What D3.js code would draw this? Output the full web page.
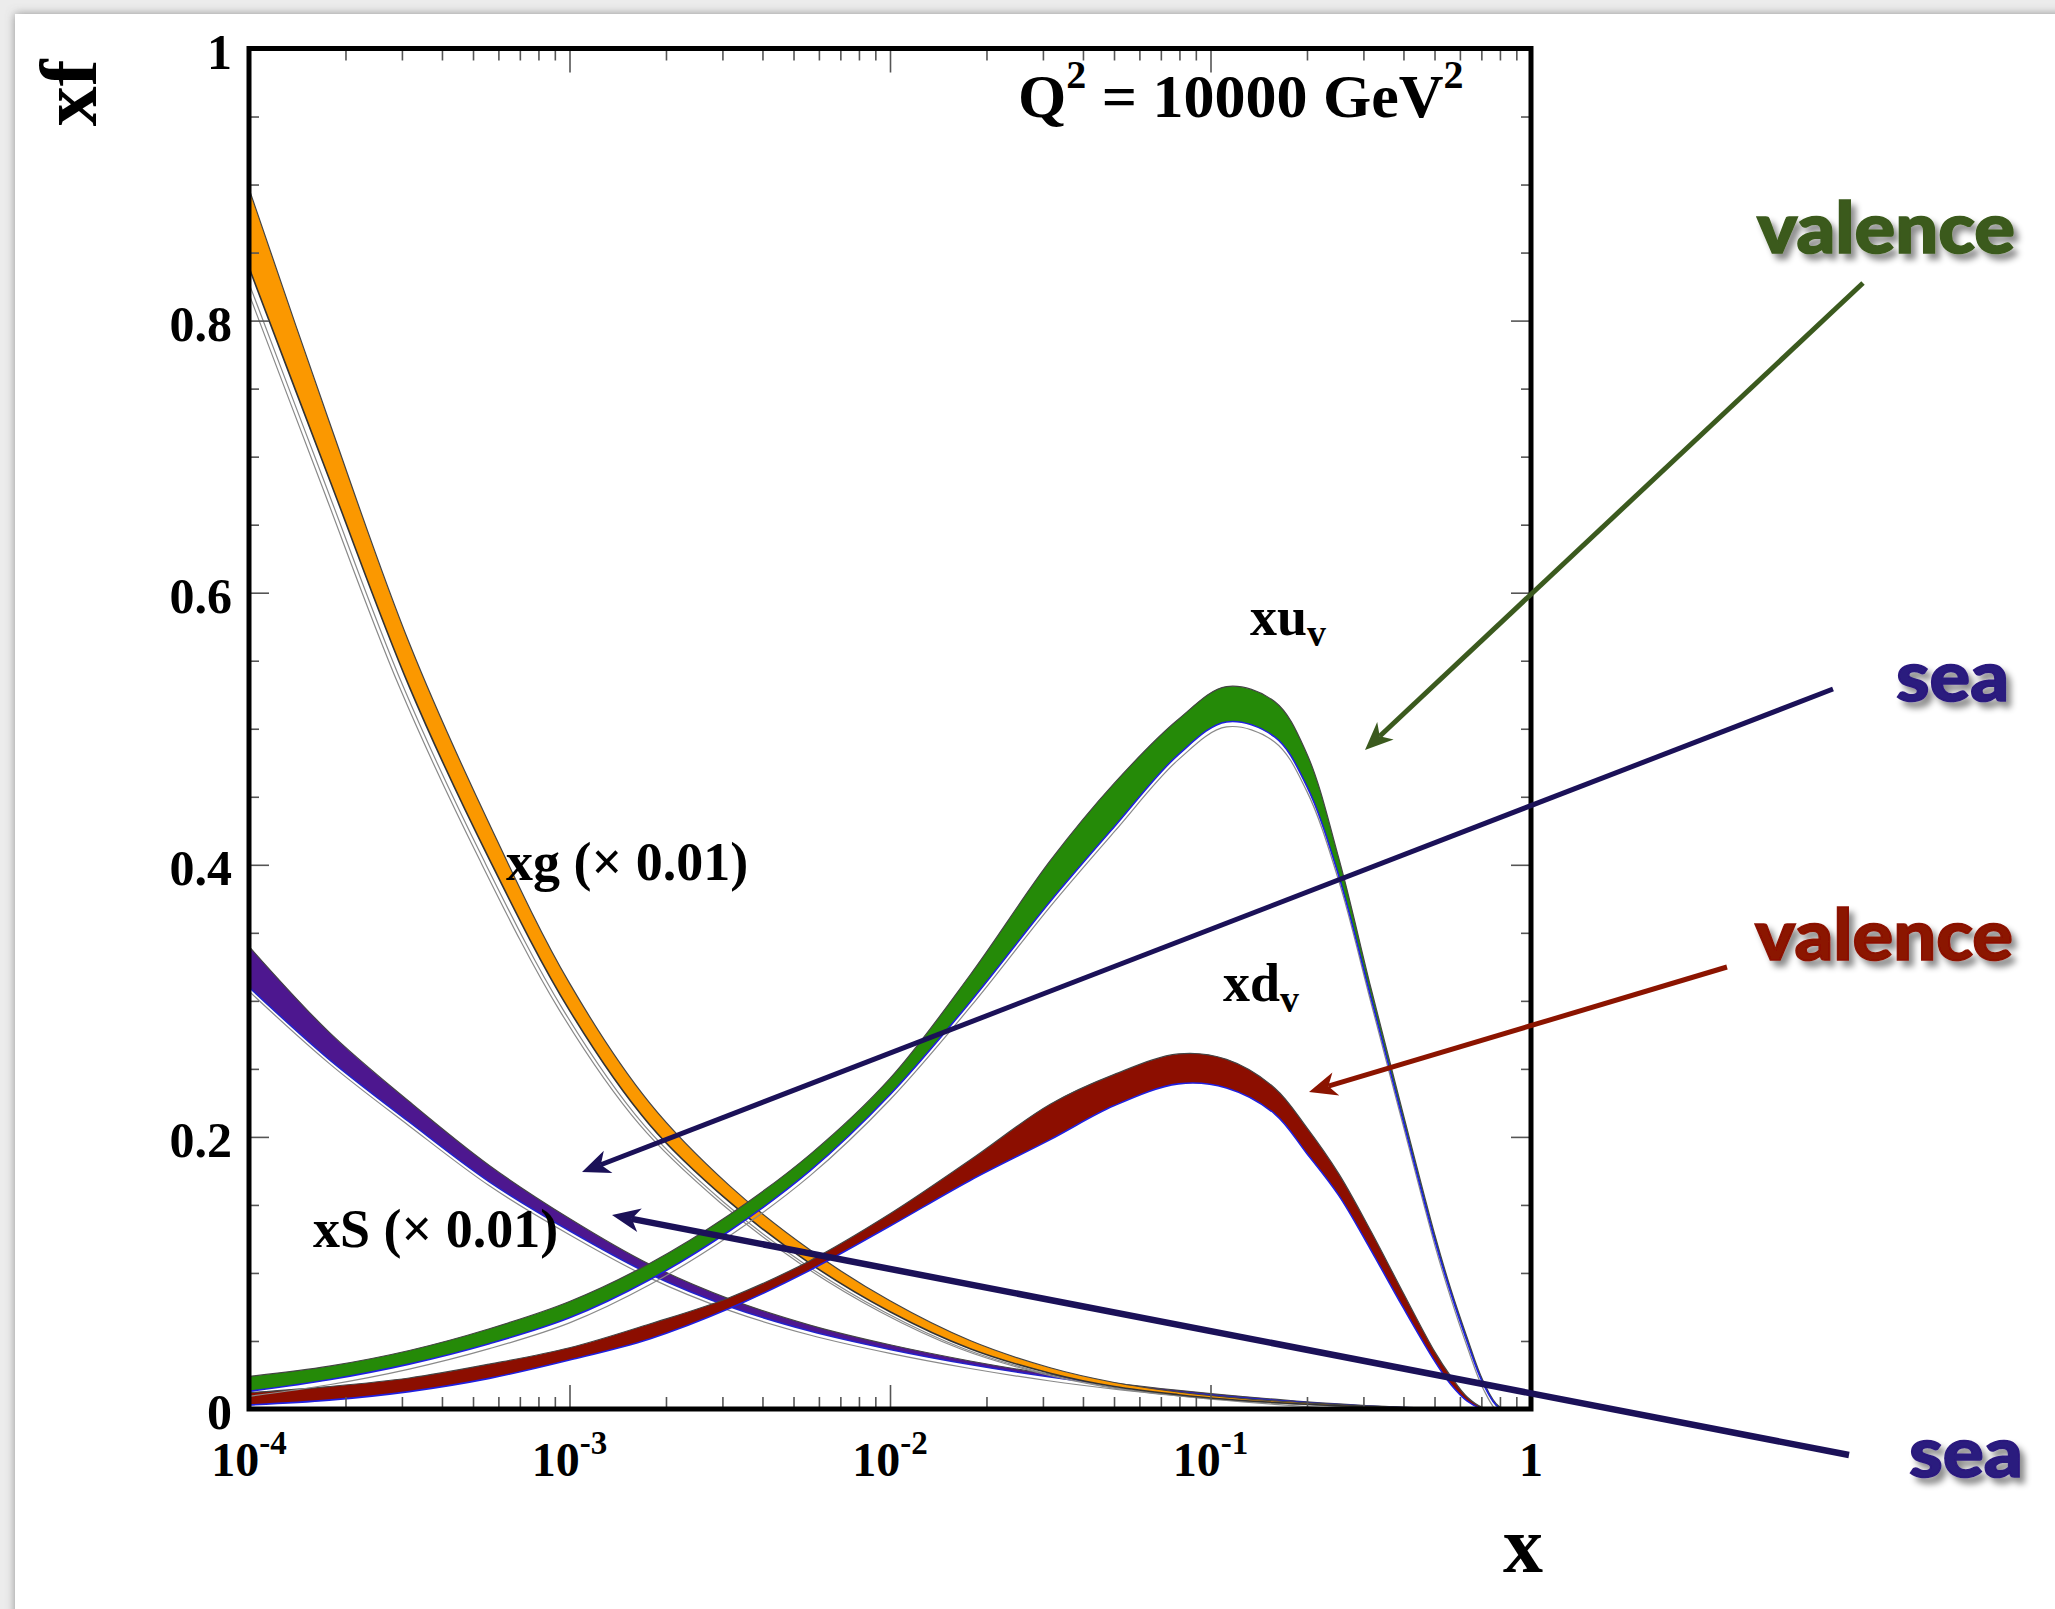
<!DOCTYPE html>
<html><head><meta charset="utf-8">
<script src="https://cdn.jsdelivr.net/npm/d3@7"></script>
<style>
html,body{margin:0;padding:0;background:#eaeaea;}
svg{display:block;}
</style></head><body>
<svg id="chart" width="2055" height="1609"></svg>
<script>
// ---------------- data ----------------
const xValues = [0.0001, 0.0001778, 0.0003162, 0.0005623, 0.001, 0.001778, 0.003162, 0.005623,
  0.01, 0.01778, 0.03162, 0.05012, 0.07943, 0.1122, 0.1585, 0.1995, 0.2512, 0.3162, 0.3981,
  0.5012, 0.5623, 0.6310, 0.7079, 0.7943, 0.8913];

// xg (x 0.01) band
const xgUpper = [0.897, 0.726, 0.563, 0.430, 0.313, 0.225, 0.164, 0.117, 0.0795, 0.0503, 0.0303, 0.0195,
  0.0125, 0.0088, 0.0060, 0.0045, 0.0032, 0.0021, 0.0012, 0.0005, 0.0003, 0.0001, 0, 0, 0];
const xgLower = [0.839, 0.684, 0.531, 0.404, 0.293, 0.209, 0.152, 0.107, 0.0715, 0.0443, 0.0263, 0.0165,
  0.0105, 0.0072, 0.0048, 0.0035, 0.0024, 0.0015, 0.0008, 0.0003, 0.0001, 0, 0, 0, 0];

// xS (x 0.01) band
const xsUpper = [0.340, 0.277, 0.226, 0.179, 0.140, 0.1063, 0.0808, 0.0617, 0.0472, 0.0353, 0.0255, 0.0191,
  0.0137, 0.0102, 0.0072, 0.0053, 0.0037, 0.0024, 0.0013, 0.0006, 0.0003, 0.0001, 0, 0, 0];
const xsLower = [0.310, 0.257, 0.211, 0.167, 0.131, 0.0993, 0.0752, 0.0573, 0.0438, 0.0327, 0.0235, 0.0175,
  0.0125, 0.0092, 0.0064, 0.0047, 0.0033, 0.0020, 0.0011, 0.0004, 0.0003, 0.0001, 0, 0, 0];

// xu_v band
const xuvUpper = [0.024, 0.0315, 0.043, 0.059, 0.079, 0.107, 0.143, 0.187, 0.243, 0.319, 0.403, 0.460,
  0.507, 0.531, 0.520, 0.482, 0.405, 0.310, 0.218, 0.128, 0.088, 0.053, 0.021, 0.002, 0];
const xuvLower = [0.013, 0.0215, 0.033, 0.048, 0.067, 0.095, 0.131, 0.175, 0.231, 0.299, 0.373, 0.428,
  0.481, 0.505, 0.494, 0.458, 0.392, 0.303, 0.213, 0.124, 0.085, 0.050, 0.019, 0.001, 0];

// xd_v band
const xdvUpper = [0.012, 0.0165, 0.0228, 0.033, 0.045, 0.0625, 0.082, 0.109, 0.1435, 0.183, 0.224, 0.246,
  0.261, 0.257, 0.236, 0.207, 0.173, 0.131, 0.086, 0.042, 0.024, 0.009, 0.001, 0, 0];
const xdvLower = [0.003, 0.0065, 0.0128, 0.0225, 0.036, 0.0515, 0.074, 0.102, 0.1345, 0.168, 0.198, 0.223,
  0.239, 0.236, 0.217, 0.188, 0.157, 0.117, 0.075, 0.035, 0.018, 0.006, 0, 0, 0];

// ticks
const xMajorTicks = [1e-4, 1e-3, 1e-2, 1e-1, 1];
const xMajorExponents = [-4, -3, -2, -1, 0];
const yMajorTicks = [0, 0.2, 0.4, 0.6, 0.8, 1];
const yTickLabels = ["0", "0.2", "0.4", "0.6", "0.8", "1"];

// ---------------- layout ----------------
const W = 2055, H = 1609;
const plot = {left: 249, right: 1531, top: 48.5, bottom: 1409};

const x = d3.scaleLog().domain([1e-4, 1]).range([plot.left, plot.right]);
const y = d3.scaleLinear().domain([0, 1]).range([plot.bottom, plot.top]);

const svg = d3.select("#chart");
const defs = svg.append("defs");

// background panel with soft shadow
svg.append("rect").attr("width", W).attr("height", H).attr("fill", "#ececec");
const ps = defs.append("filter").attr("id", "panelShadow")
  .attr("x", "-5%").attr("y", "-5%").attr("width", "110%").attr("height", "110%");
ps.append("feDropShadow").attr("dx", 0).attr("dy", 0).attr("stdDeviation", 5)
  .attr("flood-color", "#7a7a7a").attr("flood-opacity", 0.8);
svg.append("rect").attr("x", 15).attr("y", 14).attr("width", W).attr("height", H)
  .attr("fill", "#ffffff").attr("filter", "url(#panelShadow)");

// text shadow
const tsf = defs.append("filter").attr("id", "textShadow")
  .attr("x", "-10%").attr("y", "-30%").attr("width", "130%").attr("height", "180%");
tsf.append("feDropShadow").attr("dx", 5).attr("dy", 6).attr("stdDeviation", 3)
  .attr("flood-color", "#000").attr("flood-opacity", 0.45);

defs.append("clipPath").attr("id", "plotClip").append("rect")
  .attr("x", plot.left).attr("y", plot.top)
  .attr("width", plot.right - plot.left).attr("height", plot.bottom - plot.top);

// ---------------- bands ----------------
const series = [
  {key: "xS", upper: xsUpper, lower: xsLower, fill: "#4d178f", lowStroke: "#2222cc", ghost: [[0, 4]]},
  {key: "xg", upper: xgUpper, lower: xgLower, fill: "#fb9800", lowStroke: "#333333", ghost: [[-6, 0], [-10, 0]]},
  {key: "xdv", upper: xdvUpper, lower: xdvLower, fill: "#8c0e00", lowStroke: "#1f1fe0", ghost: []},
  {key: "xuv", upper: xuvUpper, lower: xuvLower, fill: "#258a08", lowStroke: "#1f1fe0", ghost: [[0, 5]]}
];

const curve = d3.curveCatmullRom.alpha(0.5);
const gBands = svg.append("g").attr("clip-path", "url(#plotClip)");
series.forEach(s => {
  const pts = xValues.map((xv, i) => ({x: xv, hi: s.upper[i], lo: s.lower[i]}));
  const area = d3.area().x(d => x(d.x)).y0(d => y(d.lo)).y1(d => y(d.hi)).curve(curve);
  const upLine = d3.line().x(d => x(d.x)).y(d => y(d.hi)).curve(curve);
  const loLine = d3.line().x(d => x(d.x)).y(d => y(d.lo)).curve(curve);
  s.ghost.forEach(off => {
    gBands.append("path").attr("d", loLine(pts)).attr("fill", "none")
      .attr("stroke", "#8a8a8a").attr("stroke-width", 1.2)
      .attr("transform", `translate(${off[0]},${off[1]})`);
  });
  gBands.append("path").attr("d", area(pts)).attr("fill", s.fill);
  gBands.append("path").attr("d", upLine(pts)).attr("fill", "none")
    .attr("stroke", "#444").attr("stroke-width", 1.2);
  gBands.append("path").attr("d", loLine(pts)).attr("fill", "none")
    .attr("stroke", s.lowStroke).attr("stroke-width", 1.6);
});

// ---------------- axes ----------------
const xMinor = x.ticks().filter(v => !xMajorTicks.some(m => Math.abs(m - v) / m < 1e-6));
const yMinor = d3.range(0, 1.0001, 0.05).filter(v => !yMajorTicks.some(m => Math.abs(m - v) < 1e-6));

function styleAxis(g) {
  g.select(".domain").remove();
  g.selectAll("line").attr("stroke", "#555").attr("stroke-width", 1.6);
}
const axes = svg.append("g");
axes.append("g").attr("transform", `translate(0,${plot.bottom})`)
  .call(d3.axisBottom(x).tickValues(xMinor).tickSize(-12).tickFormat("")).call(styleAxis);
axes.append("g").attr("transform", `translate(0,${plot.bottom})`)
  .call(d3.axisBottom(x).tickValues(xMajorTicks).tickSize(-24).tickFormat("")).call(styleAxis);
axes.append("g").attr("transform", `translate(0,${plot.top})`)
  .call(d3.axisTop(x).tickValues(xMinor).tickSize(-12).tickFormat("")).call(styleAxis);
axes.append("g").attr("transform", `translate(0,${plot.top})`)
  .call(d3.axisTop(x).tickValues(xMajorTicks).tickSize(-24).tickFormat("")).call(styleAxis);
axes.append("g").attr("transform", `translate(${plot.left},0)`)
  .call(d3.axisLeft(y).tickValues(yMinor).tickSize(-10).tickFormat("")).call(styleAxis);
axes.append("g").attr("transform", `translate(${plot.left},0)`)
  .call(d3.axisLeft(y).tickValues(yMajorTicks).tickSize(-20).tickFormat("")).call(styleAxis);
axes.append("g").attr("transform", `translate(${plot.right},0)`)
  .call(d3.axisRight(y).tickValues(yMinor).tickSize(-10).tickFormat("")).call(styleAxis);
axes.append("g").attr("transform", `translate(${plot.right},0)`)
  .call(d3.axisRight(y).tickValues(yMajorTicks).tickSize(-20).tickFormat("")).call(styleAxis);

// frame
svg.append("rect").attr("x", plot.left).attr("y", plot.top)
  .attr("width", plot.right - plot.left).attr("height", plot.bottom - plot.top)
  .attr("fill", "none").attr("stroke", "#000").attr("stroke-width", 5);

const serif = "'Liberation Serif','Times New Roman',Times,serif";

// y tick labels
svg.append("g").selectAll("text").data(yMajorTicks).join("text")
  .attr("x", plot.left - 17).attr("y", d => y(d) + 20)
  .attr("text-anchor", "end").attr("font-family", serif).attr("font-weight", "bold")
  .attr("font-size", 50).attr("fill", "#000")
  .text((d, i) => yTickLabels[i]);

// x tick labels
const xl = svg.append("g").selectAll("text").data(xMajorTicks).join("text")
  .attr("x", d => x(d)).attr("y", plot.bottom + 67)
  .attr("text-anchor", "middle").attr("font-family", serif).attr("font-weight", "bold")
  .attr("font-size", 48).attr("fill", "#000");
xl.each(function(d, i) {
  const t = d3.select(this);
  const e = xMajorExponents[i];
  if (e === 0) { t.text("1"); return; }
  t.append("tspan").text("10");
  t.append("tspan").attr("dy", -22).attr("font-size", 33).text(String(e));
});

// axis titles
svg.append("text").attr("x", 1523).attr("y", 1572).attr("text-anchor", "middle")
  .attr("font-family", serif).attr("font-weight", "bold").attr("font-size", 80).text("x");
svg.append("text").attr("transform", "translate(96,93) rotate(-90)").attr("text-anchor", "middle")
  .attr("font-family", serif).attr("font-weight", "bold").attr("font-size", 80).text("xf");

// Q2 label
const q = svg.append("text").attr("x", 1018).attr("y", 117)
  .attr("font-family", serif).attr("font-weight", "bold").attr("font-size", 62);
q.append("tspan").text("Q");
q.append("tspan").attr("dy", -29).attr("font-size", 40).text("2");
q.append("tspan").attr("dy", 29).text(" = 10000 GeV");
q.append("tspan").attr("dy", -29).attr("font-size", 40).text("2");

// curve labels
function curveLabel(px, py, main, sub, size) {
  const t = svg.append("text").attr("x", px).attr("y", py)
    .attr("font-family", serif).attr("font-weight", "bold").attr("font-size", size).attr("fill", "#000");
  t.append("tspan").text(main);
  if (sub) t.append("tspan").attr("dy", 11).attr("font-size", 38).text(sub);
}
curveLabel(506, 880, "xg (\u00d7 0.01)", null, 54);
curveLabel(313, 1247, "xS (\u00d7 0.01)", null, 54);
curveLabel(1250, 635, "xu", "v", 54);
curveLabel(1223, 1001, "xd", "v", 54);

// ---------------- annotations ----------------
const arrows = [
  {x1: 1863, y1: 283, x2: 1365, y2: 750, color: "#3b5a1e", w: 5},
  {x1: 1833, y1: 689, x2: 582, y2: 1172, color: "#1b1158", w: 5},
  {x1: 1727, y1: 967, x2: 1309, y2: 1092, color: "#8b1400", w: 5},
  {x1: 1849, y1: 1455, x2: 612, y2: 1215, color: "#1b1158", w: 6.5}
];
const ga = svg.append("g");
arrows.forEach(a => {
  const dx = a.x2 - a.x1, dy = a.y2 - a.y1, L = Math.hypot(dx, dy);
  const ux = dx / L, uy = dy / L, nx = -uy, ny = ux;
  const len = 28, hw = 12, notch = 0.72;
  ga.append("line").attr("x1", a.x1).attr("y1", a.y1)
    .attr("x2", a.x2 - ux * len * notch).attr("y2", a.y2 - uy * len * notch)
    .attr("stroke", a.color).attr("stroke-width", a.w);
  const p = [
    [a.x2, a.y2],
    [a.x2 - ux * len + nx * hw, a.y2 - uy * len + ny * hw],
    [a.x2 - ux * len * notch, a.y2 - uy * len * notch],
    [a.x2 - ux * len - nx * hw, a.y2 - uy * len - ny * hw]
  ];
  ga.append("path").attr("d", "M" + p.map(q => q.join(",")).join("L") + "Z").attr("fill", a.color);
});

const notes = [
  {text: "valence", color: "#3b5a1b", x: 1757, y: 253, len: 258},
  {text: "sea", color: "#2c1a7e", x: 1896, y: 701, len: 113},
  {text: "valence", color: "#8b1200", x: 1755, y: 960, len: 258},
  {text: "sea", color: "#2c1a7e", x: 1909, y: 1477, len: 114}
];
svg.append("g").selectAll("text").data(notes).join("text")
  .attr("x", d => d.x).attr("y", d => d.y)
  .attr("font-family", "Lato,'DejaVu Sans',sans-serif").attr("font-weight", 900)
  .attr("font-size", 70).attr("fill", d => d.color)
  .attr("stroke", d => d.color).attr("stroke-width", 1.6)
  .attr("textLength", d => d.len).attr("lengthAdjust", "spacingAndGlyphs")
  .attr("filter", "url(#textShadow)")
  .text(d => d.text);
</script>
</body></html>
